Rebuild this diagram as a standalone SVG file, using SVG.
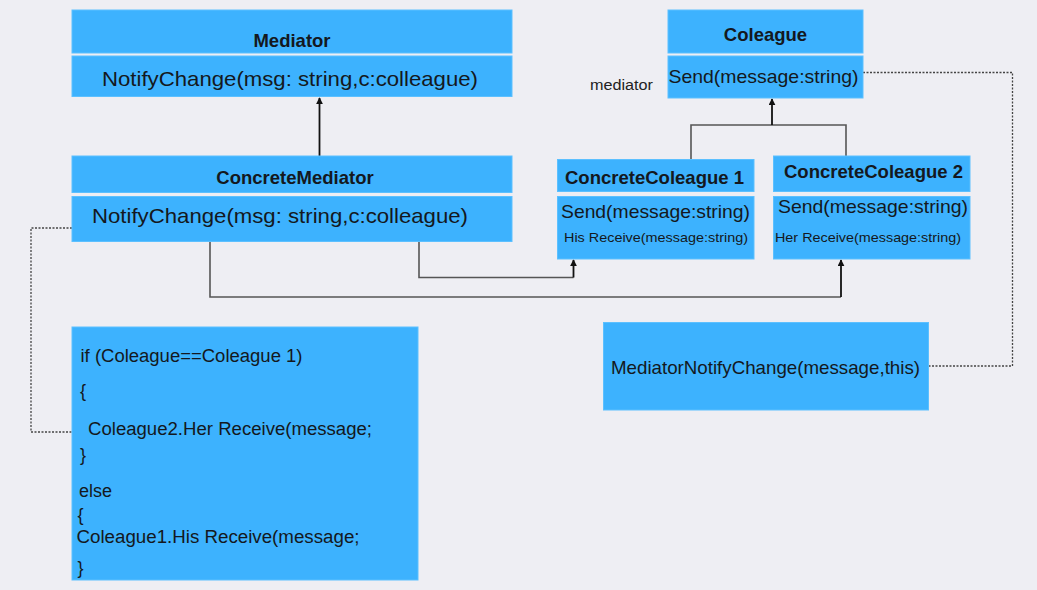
<svg xmlns="http://www.w3.org/2000/svg" width="1037" height="590" viewBox="0 0 1037 590">
<style>
.bg{fill:#eeeef3}
.box{fill:#3db2fe;stroke:#5cc0ff;stroke-width:1}
text{font-family:"Liberation Sans",Arial,sans-serif;fill:#141820}
.h{font-weight:bold;font-size:18.5px;text-anchor:middle}
.big{font-size:21px}
.m{font-size:18.5px}
.s{font-size:13.5px}
.code{font-size:18px}
.lbl{font-size:15.5px;fill:#222}
.ln{fill:none;stroke:#555;stroke-width:1.6}
.ar{fill:none;stroke:#111;stroke-width:1.8}
.dash{fill:none;stroke:#444;stroke-width:1.3;stroke-dasharray:2 1.5}
</style>
<defs>
<marker id="tri" viewBox="0 0 10 10" refX="9" refY="5" markerWidth="7" markerHeight="7" orient="auto" markerUnits="userSpaceOnUse">
<path d="M0,0 L10,5 L0,10 z" fill="#111"/>
</marker>
</defs>
<rect class="bg" x="0" y="0" width="1037" height="590"/>

<g id="connectors">
<path class="ar" d="M319.5,156 V98" marker-end="url(#tri)"/>
<path class="ln" d="M691,159 V125 H846 V156"/>
<path class="ar" d="M772,125 V99" marker-end="url(#tri)"/>
<path class="ln" d="M419,242 V277.5 H573.5"/>
<path class="ar" d="M573.5,277.5 V260" marker-end="url(#tri)"/>
<path class="ln" d="M210,242 V297 H841"/>
<path class="ar" d="M841,297 V260" marker-end="url(#tri)"/>
<path class="dash" d="M72,228 H31 V432 H72"/>
<path class="dash" d="M863,72.5 H1012.5 V366 H928"/>
</g>

<g id="mediator">
<rect class="box" x="72" y="10" width="440" height="43"/>
<rect class="box" x="72" y="56" width="440" height="40.5"/>
<text class="h" x="292" y="47">Mediator</text>
<text class="big" x="102" y="86" textLength="376" lengthAdjust="spacingAndGlyphs">NotifyChange(msg: string,c:colleague)</text>
</g>

<g id="coleague">
<rect class="box" x="668" y="10" width="195" height="43"/>
<rect class="box" x="668" y="56" width="195" height="42"/>
<text class="h" x="765.5" y="41">Coleague</text>
<text class="m" x="668.5" y="83" textLength="190" lengthAdjust="spacingAndGlyphs">Send(message:string)</text>
</g>

<text class="lbl" x="590" y="90" textLength="63" lengthAdjust="spacingAndGlyphs">mediator</text>

<g id="concrete-mediator">
<rect class="box" x="72" y="156" width="440" height="36.5"/>
<rect class="box" x="72" y="196.5" width="440" height="45"/>
<text class="h" x="295" y="184">ConcreteMediator</text>
<text class="big" x="92" y="223" textLength="376" lengthAdjust="spacingAndGlyphs">NotifyChange(msg: string,c:colleague)</text>
</g>

<g id="concrete-coleague-1">
<rect class="box" x="557.5" y="159.5" width="196.5" height="32"/>
<rect class="box" x="557.5" y="196.5" width="196.5" height="62.5"/>
<text class="h" x="654.5" y="184" textLength="179" lengthAdjust="spacingAndGlyphs">ConcreteColeague 1</text>
<text class="m" x="561" y="217.5" textLength="189" lengthAdjust="spacingAndGlyphs">Send(message:string)</text>
<text class="s" x="564" y="242" textLength="184" lengthAdjust="spacingAndGlyphs">His Receive(message:string)</text>
</g>

<g id="concrete-coleague-2">
<rect class="box" x="773.5" y="156" width="196.5" height="35.5"/>
<rect class="box" x="773.5" y="196.5" width="196.5" height="62.5"/>
<text class="h" x="873.5" y="178" textLength="179" lengthAdjust="spacingAndGlyphs">ConcreteColeague 2</text>
<text class="m" x="778" y="213" textLength="190" lengthAdjust="spacingAndGlyphs">Send(message:string)</text>
<text class="s" x="775" y="242" textLength="186" lengthAdjust="spacingAndGlyphs">Her Receive(message:string)</text>
</g>

<g id="code-box">
<rect class="box" x="72" y="327" width="346" height="253"/>
<text class="code" x="80.5" y="362" textLength="222" lengthAdjust="spacingAndGlyphs">if (Coleague==Coleague 1)</text>
<text class="code" x="80" y="397">{</text>
<text class="code" x="88" y="435" textLength="284" lengthAdjust="spacingAndGlyphs">Coleague2.Her Receive(message;</text>
<text class="code" x="80" y="461">}</text>
<text class="code" x="79" y="497">else</text>
<text class="code" x="77.5" y="521">{</text>
<text class="code" x="76.5" y="543" textLength="283" lengthAdjust="spacingAndGlyphs">Coleague1.His Receive(message;</text>
<text class="code" x="77.5" y="574">}</text>
</g>

<g id="mediator-notify">
<rect class="box" x="603.5" y="322.5" width="325" height="87.5"/>
<text class="m" x="611" y="373.5" textLength="309" lengthAdjust="spacingAndGlyphs">MediatorNotifyChange(message,this)</text>
</g>
</svg>
